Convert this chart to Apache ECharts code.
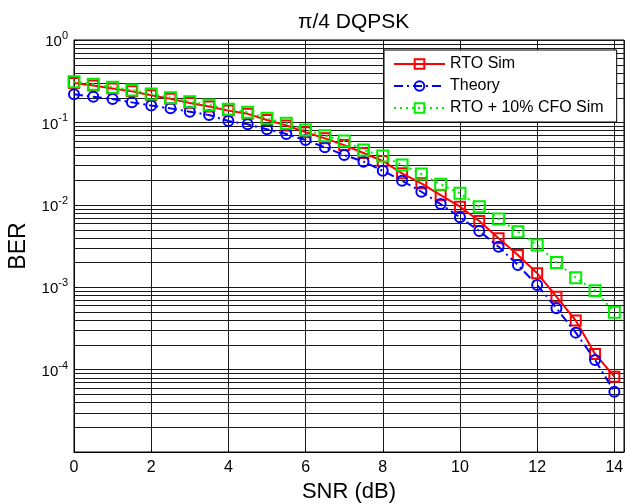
<!DOCTYPE html>
<html>
<head>
<meta charset="utf-8">
<script src="https://cdn.jsdelivr.net/npm/echarts@6/dist/echarts.min.js"></script>
<style>
html,body{margin:0;padding:0;background:#fff;}
#chart{width:625px;height:504px;}
</style>
</head>
<body>
<div id="chart"></div>
<script>
const snr = [0,0.5,1,1.5,2,2.5,3,3.5,4,4.5,5,5.5,6,6.5,7,7.5,8,8.5,9,9.5,10,10.5,11,11.5,12,12.5,13,13.5,14];
const rtoSim = [0.300,0.280,0.258,0.238,0.214,0.193,0.172,0.156,0.139,0.127,0.107,0.092,0.076,0.064,0.053,0.0425,0.034,0.0241,0.0182,0.0131,0.0095,0.00636,0.00392,0.00246,0.00148,0.000767,0.000393,0.000155,0.000082];
const theory = [0.219,0.205,0.192,0.175,0.160,0.148,0.135,0.123,0.104,0.0948,0.0825,0.0723,0.0611,0.0499,0.0402,0.0334,0.0259,0.0196,0.0144,0.0102,0.00705,0.00481,0.0031,0.00186,0.00106,0.000555,0.000281,0.000131,0.000054];
const cfoSim = [0.312,0.290,0.267,0.247,0.221,0.1995,0.178,0.163,0.144,0.133,0.112,0.0975,0.0809,0.069,0.0594,0.0462,0.0391,0.0304,0.0236,0.0177,0.0138,0.00949,0.00673,0.00472,0.00325,0.002,0.0013,0.000907,0.000495];
const xTicks = [0,2,4,6,8,10,12,14];
const decades = [-5,-4,-3,-2,-1];
const minorMultipliers = [2,3,4,5,6,7,8,9];

const minorValues = [];
decades.forEach(d => minorMultipliers.forEach(m => minorValues.push(m * Math.pow(10, d))));

const FONT = 'Liberation Sans';
const pair = arr => snr.map((x, i) => [x, arr[i]]);
const GRID_COLOR = '#1a1a1a';

const chart = echarts.init(document.getElementById('chart'), null, {renderer: 'canvas'});
chart.setOption({
  animation: false,
  backgroundColor: '#fff',
  title: {
    text: 'π/4 DQPSK',
    left: 293, top: 7,
    textStyle: {fontFamily: FONT, fontSize: 21, fontWeight: 'normal', color: '#000'}
  },
  grid: {left: 74, right: 1, top: 40, bottom: 52, show: true, borderColor: '#000', borderWidth: 1,
    backgroundColor: 'transparent', containLabel: false, outerBoundsMode: 'none'},
  legend: {
    left: 384, top: 50,
    orient: 'vertical',
    backgroundColor: '#fff',
    borderColor: '#000', borderWidth: 1,
    padding: [6, 13, 6, 9],
    itemWidth: 51, itemHeight: 12, itemGap: 6,
    textStyle: {fontFamily: FONT, fontSize: 16, color: '#000'},
    data: ['RTO Sim', 'Theory', 'RTO + 10% CFO Sim']
  },
  xAxis: {
    type: 'value', min: 0, max: 14.25, interval: 2,
    name: 'SNR (dB)', nameLocation: 'middle', nameGap: 29,
    nameTextStyle: {fontFamily: FONT, fontSize: 22, color: '#000'},
    axisLine: {show: true, lineStyle: {color: '#000'}},
    axisTick: {show: true, inside: true, length: 3, lineStyle: {color: '#000'}},
    axisLabel: {fontFamily: FONT, fontSize: 16, color: '#000', margin: 8,
      formatter: v => (xTicks.indexOf(v) >= 0 ? String(v) : '')},
    splitLine: {show: true, lineStyle: {color: GRID_COLOR, width: 1}}
  },
  yAxis: {
    type: 'log', logBase: 10, min: 1e-5, max: 1,
    name: 'BER', nameLocation: 'middle', nameGap: 40,
    nameTextStyle: {fontFamily: FONT, fontSize: 23, color: '#000'},
    axisLine: {show: true, lineStyle: {color: '#000'}},
    axisTick: {show: true, inside: true, length: 3, lineStyle: {color: '#000'}},
    axisLabel: {
      showMinLabel: false, margin: 6,
      formatter: v => {
        const e = Math.round(Math.log10(v));
        return '{b|10}{s|' + e + '}';
      },
      rich: {
        b: {fontFamily: FONT, fontSize: 15, color: '#000', padding: [4, 0, 0, 0]},
        s: {fontFamily: FONT, fontSize: 11, color: '#000', padding: [0, 0, 8, 0]}
      }
    },
    splitLine: {show: true, lineStyle: {color: GRID_COLOR, width: 1}}
  },
  series: [
    {
      name: 'minorGrid', type: 'custom', silent: true, z: 1,
      data: minorValues.map(v => [0, v]),
      encode: {x: 0, y: 1},
      clip: true,
      renderItem: (params, api) => {
        const p = api.coord([0, api.value(1)]);
        const cs = params.coordSys;
        const y = Math.round(p[1]) + 0.5;
        return {
          type: 'line', silent: true,
          shape: {x1: cs.x, y1: y, x2: cs.x + cs.width, y2: y},
          style: {stroke: GRID_COLOR, lineWidth: 1}
        };
      }
    },
    {
      name: 'RTO Sim', type: 'line', data: pair(rtoSim),
      symbol: 'rect', symbolSize: 10,
      lineStyle: {color: '#ff0000', width: 2, type: 'solid'},
      itemStyle: {color: 'rgba(255,255,255,0)', borderColor: '#ff0000', borderWidth: 2},
      emphasis: {disabled: true},
      z: 3
    },
    {
      name: 'Theory', type: 'line', data: pair(theory),
      symbol: 'circle', symbolSize: 10,
      lineStyle: {color: '#0000ff', width: 2, type: [9, 4, 2, 4]},
      itemStyle: {color: 'rgba(255,255,255,0)', borderColor: '#0000ff', borderWidth: 2},
      emphasis: {disabled: true},
      z: 4
    },
    {
      name: 'RTO + 10% CFO Sim', type: 'line', data: pair(cfoSim),
      symbol: 'rect', symbolSize: 11,
      lineStyle: {color: '#00ee00', width: 2, type: [2, 4]},
      itemStyle: {color: 'rgba(255,255,255,0)', borderColor: '#00ee00', borderWidth: 2},
      emphasis: {disabled: true},
      z: 5
    }
  ]
});
</script>
</body>
</html>
